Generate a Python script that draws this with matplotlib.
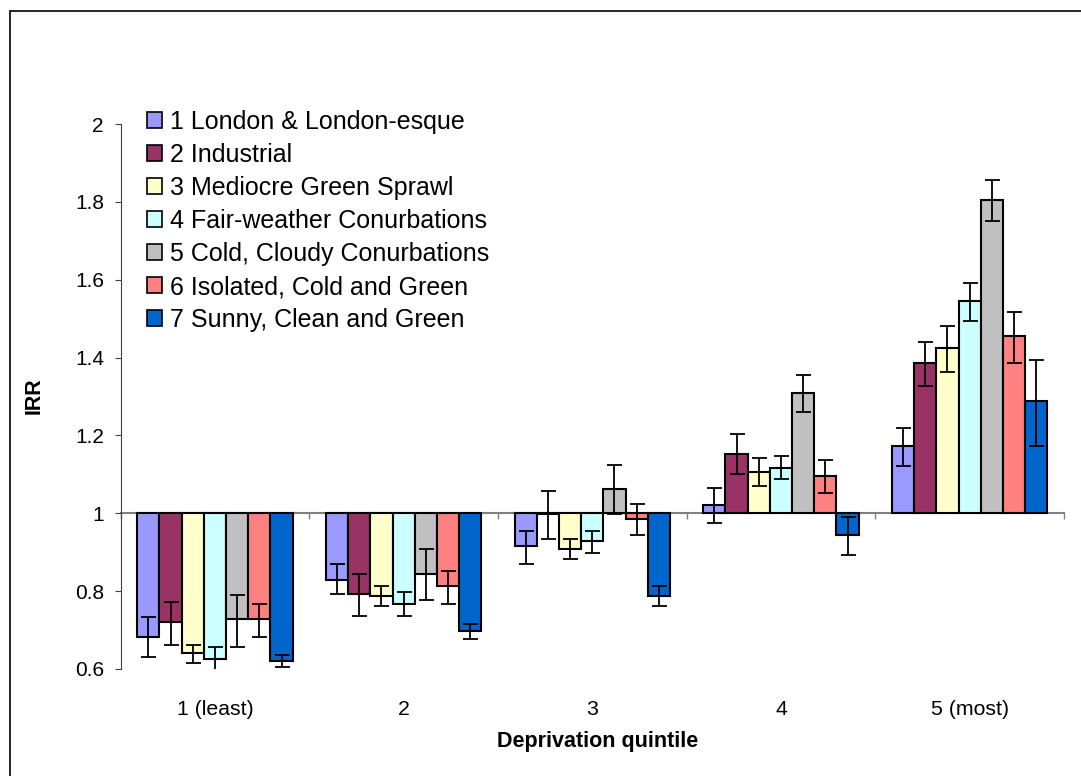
import numpy as np
import matplotlib
matplotlib.use("Agg")
import matplotlib.pyplot as plt
from matplotlib.patches import Rectangle

plt.rcParams['font.family'] = ['Liberation Sans', 'DejaVu Sans']

# categorias (quintis) e series (classificacao das areas)
quintis = ["1 (least)", "2", "3", "4", "5 (most)"]
series = ["1 London & London-esque", "2 Industrial", "3 Mediocre Green Sprawl",
          "4 Fair-weather Conurbations", "5 Cold, Cloudy Conurbations",
          "6 Isolated, Cold and Green", "7 Sunny, Clean and Green"]
cores = ["#9999FF", "#993366", "#FFFFCC", "#CCFFFF", "#C0C0C0", "#FF8080", "#0066CC"]

# IRR por serie (linhas) e quintil (colunas)
irr = np.array([
    [0.682, 0.829, 0.915, 1.021, 1.172],
    [0.722, 0.793, 0.997, 1.152, 1.385],
    [0.641, 0.788, 0.909, 1.106, 1.425],
    [0.626, 0.768, 0.929, 1.117, 1.546],
    [0.729, 0.844, 1.062, 1.309, 1.805],
    [0.728, 0.813, 0.985, 1.097, 1.455],
    [0.621, 0.697, 0.787, 0.944, 1.288],
])
# intervalos de confianca
ic_inf = np.array([
    [0.630, 0.793, 0.869, 0.975, 1.121],
    [0.662, 0.737, 0.935, 1.101, 1.328],
    [0.616, 0.762, 0.883, 1.070, 1.364],
    [0.595, 0.737, 0.899, 1.087, 1.495],
    [0.656, 0.778, 0.997, 1.259, 1.750],
    [0.682, 0.768, 0.945, 1.051, 1.385],
    [0.605, 0.677, 0.762, 0.894, 1.172],
])
ic_sup = np.array([
    [0.733, 0.870, 0.955, 1.066, 1.219],
    [0.772, 0.843, 1.057, 1.203, 1.440],
    [0.662, 0.812, 0.935, 1.141, 1.482],
    [0.656, 0.797, 0.955, 1.147, 1.592],
    [0.789, 0.909, 1.123, 1.355, 1.855],
    [0.768, 0.853, 1.025, 1.137, 1.516],
    [0.637, 0.716, 0.812, 0.991, 1.395],
])

W, H = 1081, 776
fig = plt.figure(figsize=(W / 100, H / 100), dpi=100)
ax = fig.add_axes([120.6 / W, 1 - 669 / H, (1064 - 120.6) / W, (669 - 124) / H])

x = np.arange(len(quintis))
largura = 1 / 8.5
for i in range(len(series)):
    pos = x + (i - 3) * largura
    ax.bar(pos, irr[i] - 1, bottom=1, width=largura, color=cores[i],
           edgecolor="black", linewidth=1.5, label=series[i], zorder=2)
    ax.errorbar(pos, irr[i], yerr=[irr[i] - ic_inf[i], ic_sup[i] - irr[i]],
                fmt="none", ecolor="black", elinewidth=1.3, capsize=5.4,
                capthick=1.3, zorder=3)

ax.set_xlim(-0.5, len(quintis) - 0.5)
ax.set_ylim(0.6, 2)
ax.set_yticks([0.6, 0.8, 1, 1.2, 1.4, 1.6, 1.8, 2])
ax.set_yticklabels(["0.6", "0.8", "1", "1.2", "1.4", "1.6", "1.8", "2"])
ax.tick_params(axis="y", direction="out", length=4, width=0.8, color="#404040",
               pad=8, labelsize=15)

# eixo x cruza em 1
ax.spines["top"].set_visible(False)
ax.spines["right"].set_visible(False)
ax.spines["left"].set_color("#404040")
ax.spines["bottom"].set_position(("data", 1))
ax.spines["bottom"].set_color("#808080")
ax.spines["bottom"].set_linewidth(1.5)
ax.spines["bottom"].set_zorder(1)
ax.set_xticks(np.arange(-0.5, len(quintis)), minor=False)
ax.set_xticklabels([])
ax.tick_params(axis="x", direction="out", length=4.5, width=1, color="#808080")

# rotulos das categorias em baixo
sec = ax.secondary_xaxis(0)
sec.set_xticks(x)
sec.set_xticklabels(quintis)
sec.spines["bottom"].set_visible(False)
sec.tick_params(length=0, pad=22, labelsize=15.3)

fig.text(598 / W, 1 - 742 / H, "Deprivation quintile", ha="center", va="center",
         fontsize=15.5, fontweight="bold")
fig.text(34 / W, 1 - 396 / H, "IRR", ha="center", va="center", rotation=90,
         fontsize=15.5, fontweight="bold")

leg = ax.legend(loc="upper left", bbox_to_anchor=(147 / W, 1 - 110 / H),
                bbox_transform=fig.transFigure, frameon=False, fontsize=18,
                handlelength=0.6, handleheight=0.6, handletextpad=0.32,
                labelspacing=0.36, borderpad=0, borderaxespad=0)
for h in leg.legend_handles:
    h.set_linewidth(1.2)

# moldura do grafico
fig.add_artist(Rectangle((10 / W, -0.1), 1.2, 1 - 11 / H + 0.1,
                         transform=fig.transFigure, fill=False,
                         edgecolor="black", linewidth=1.2))

fig.savefig("out.png", dpi=100)
